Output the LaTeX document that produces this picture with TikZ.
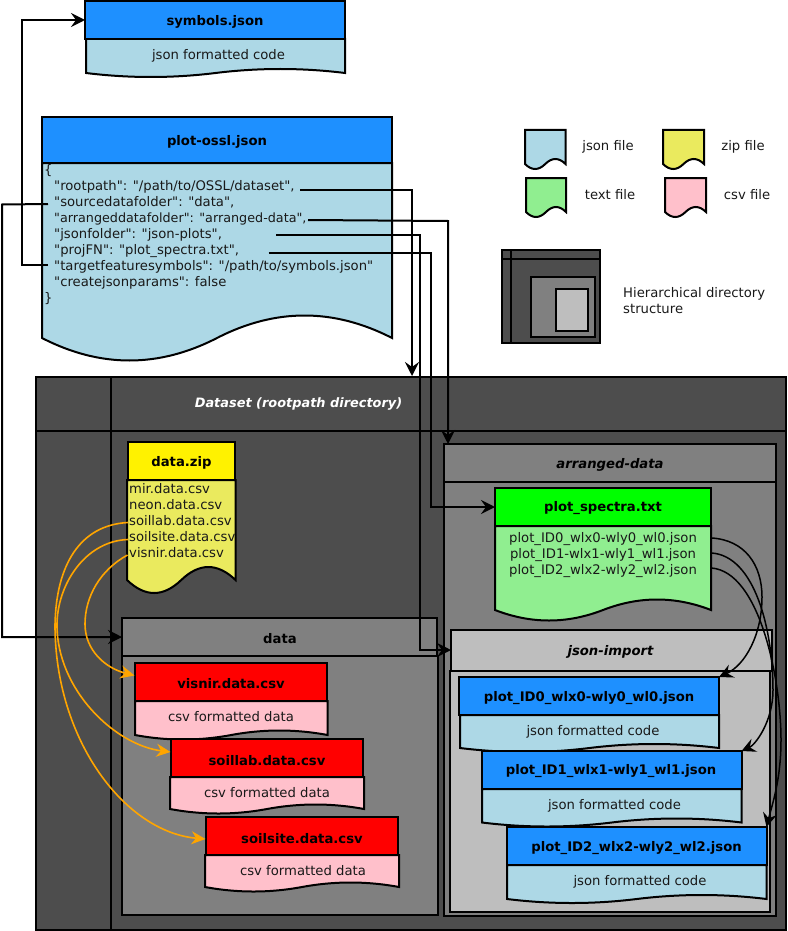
\documentclass[tikz,border=0pt]{standalone}
\usepackage{fontspec}
\newfontfamily\vera{DejaVu Sans}
\usetikzlibrary{arrows.meta}
\definecolor{hdrblue}{HTML}{1E90FF}
\definecolor{jsonbody}{HTML}{ADD8E6}
\definecolor{zipbody}{HTML}{EAEA5E}
\definecolor{txtbody}{HTML}{90EE90}
\definecolor{csvbody}{HTML}{FFC0CB}
\definecolor{dirdark}{HTML}{4D4D4D}
\definecolor{dirmid}{HTML}{808080}
\definecolor{dirlight}{HTML}{BEBEBE}
\definecolor{flow}{HTML}{FFA500}
\newcommand{\fs}{\vera\fontsize{13.2}{16}\selectfont}
\tikzset{
  ln/.style={draw=black,line width=2pt,line join=miter},
  hdr/.style={ln,inner sep=0pt,anchor=north west,font=\fs\bfseries},
  lbl/.style={inner sep=0pt,yshift=-1pt,font=\fs,text=black!90},
  ttl/.style={inner sep=0pt,yshift=-1.5pt,font=\fs\bfseries,text=black},
  dttl/.style={inner sep=0pt,yshift=-1.5pt,font=\fs\bfseries\itshape,text=black},
  lline/.style={inner sep=0pt,anchor=base west,font=\fs,text=black!90},
  conn/.style={draw=black,line width=2pt,-{Stealth[length=14pt,width=14pt,inset=5pt]}},
  ccurve/.style={draw=black,line width=1.5pt,-{Stealth[length=14pt,width=14pt,inset=5pt]}},
  ocurve/.style={draw=flow,line width=1.6pt,-{Stealth[length=14pt,width=13pt,inset=4.5pt]}},
}
% \docbody{fill}{x1}{y1}{x2}{y2 wave base}{amplitude}
\newcommand{\docbody}[6]{%
  \pgfmathsetmacro{\W}{#4-#2}%
  \pgfmathsetmacro{\cA}{#2+\W*5/6}%
  \pgfmathsetmacro{\cB}{#2+\W*4/6}%
  \pgfmathsetmacro{\cC}{#2+\W/2}%
  \pgfmathsetmacro{\cD}{#2+\W*2/6}%
  \pgfmathsetmacro{\cE}{#2+\W/6}%
  \pgfmathsetmacro{\yU}{#5-#6*4/3}%
  \pgfmathsetmacro{\yD}{#5+#6*4/3}%
  \draw[ln,fill=#1] (#2,#3) -- (#4,#3) -- (#4,#5)
    .. controls (\cA,\yU) and (\cB,\yU) .. (\cC,#5)
    .. controls (\cD,\yD) and (\cE,\yD) .. (#2,#5) -- cycle;}
% \hdrbox{name}{fill}{x1}{y1}{x2}{y2}
\newcommand{\hdrbox}[6]{%
  \pgfmathsetmacro{\bw}{#5-#3}\pgfmathsetmacro{\bh}{#6-#4}%
  \node[hdr,fill=#2,minimum width=\bw pt,minimum height=\bh pt,outer sep=0pt] (#1) at (#3,#4) {};}
\begin{document}
\begin{tikzpicture}[x=1pt,y=-1pt]
\useasboundingbox (0,0) rectangle (787,931);
% Legend
\docbody{jsonbody}{525}{130}{565.5}{164}{5}
\docbody{zipbody}{663}{130}{704}{164}{5}
\docbody{txtbody}{526}{178}{566}{212}{5}
\docbody{csvbody}{665}{178}{706}{212}{5}
\node[lbl] (lgjson) at (608,146) {json file};
\node[lbl] (lgzip) at (743,146) {zip file};
\node[lbl] (lgtext) at (610,194) {text file};
\node[lbl] (lgcsv) at (747,194) {csv file};
\draw[ln,fill=dirdark] (502,250) rectangle (599.5,343);
\draw[ln] (511,250) -- (511,343) (502,259) -- (599.5,259);
\draw[ln,fill=dirmid] (531,277) rectangle (594.5,337);
\draw[ln,fill=dirlight] (556,289) rectangle (588,331);
\node[lline] (lghier1) at (623,297) {Hierarchical directory};
\node[lline] (lghier2) at (623,313) {structure};
% symbols.json
\docbody{jsonbody}{86}{39}{345}{73}{4}
\hdrbox{symbols}{hdrblue}{85}{1}{345}{39}
\node[ttl] (symbolsname) at (215,20) {symbols.json};
\node[lbl] (symbolstxt) at (218.5,55) {json formatted code};
% plot-ossl.json
\docbody{jsonbody}{42}{163}{392}{338}{22.5}
\hdrbox{ossl}{hdrblue}{42}{117}{392}{163}
\node[ttl] (osslname) at (217,140.5) {plot-ossl.json};
\node[lline] (l0) at (44,174) {\{};
\node[lline] (l1) at (54,190) {"rootpath": "/path/to/OSSL/dataset",};
\node[lline] (l2) at (54,206) {"sourcedatafolder": "data",};
\node[lline,font=\vera\fontsize{12.75}{16}\selectfont] (l3) at (54,222) {"arrangeddatafolder": "arranged-data",};
\node[lline] (l4) at (54,238) {"jsonfolder": "json-plots",};
\node[lline] (l5) at (54,254) {"projFN": "plot\_spectra.txt",};
\node[lline] (l6) at (54,270) {"targetfeaturesymbols": "/path/to/symbols.json"};
\node[lline] (l7) at (54,286) {"createjsonparams": false};
\node[lline] (l8) at (44,302) {\}};
% Dataset
\draw[ln,fill=dirdark] (36,376.5) rectangle (786,930);
\draw[ln] (111,376.5) -- (111,930) (36,431) -- (786,431);
\node[inner sep=0pt,yshift=-1.5pt,font=\vera\fontsize{12.9}{16}\selectfont\bfseries\itshape,text=white] (datasetname) at (298.5,402) {Dataset (rootpath directory)};
% data.zip
\docbody{zipbody}{127}{480}{235.5}{580}{13}
\hdrbox{zip}{yellow}{128}{442}{235}{480}
\node[ttl] (zipname) at (181.5,461) {data.zip};
\node[lline] (z1) at (129,493) {mir.data.csv};
\node[lline] (z2) at (129,509) {neon.data.csv};
\node[lline] (z3) at (129,525) {soillab.data.csv};
\node[lline] (z4) at (129,541) {soilsite.data.csv};
\node[lline] (z5) at (129,557) {visnir.data.csv};
% data directory
\draw[ln,fill=dirmid] (121.5,656) rectangle (438,915);
\hdrbox{datadir}{dirmid}{122}{618}{437}{656}
\node[ttl] (dataname) at (280,637.5) {data};
% csv files
\docbody{csvbody}{135}{701}{327.5}{735}{4.5}
\hdrbox{visnir}{red}{135}{663}{327}{701}
\node[ttl] (visnirname) at (231,682.5) {visnir.data.csv};
\node[lbl] (visnirtxt) at (231,716) {csv formatted data};
\docbody{csvbody}{170}{777}{364}{809}{4.5}
\hdrbox{soillab}{red}{171}{739}{363}{777}
\node[ttl] (soillabname) at (267,759) {soillab.data.csv};
\node[lbl] (soillabtxt) at (267,791.5) {csv formatted data};
\docbody{csvbody}{205}{855}{399}{887}{4.5}
\hdrbox{soilsite}{red}{206}{817}{398}{855}
\node[ttl] (soilsitename) at (302,837) {soilsite.data.csv};
\node[lbl] (soilsitetxt) at (303,869.5) {csv formatted data};
% arranged-data directory
\draw[ln,fill=dirmid] (444,482) rectangle (776,916);
\hdrbox{arranged}{dirmid}{444}{444}{776}{482}
\node[dttl] (arrangedname) at (610,463) {arranged-data};
% plot_spectra
\docbody{txtbody}{495}{526}{711}{610}{10.5}
\hdrbox{spectra}{green}{495}{488}{711}{526}
\node[ttl] (spectraname) at (603,507) {plot\_spectra.txt};
\node[lbl] (s1) at (603,538) {plot\_ID0\_wlx0-wly0\_wl0.json};
\node[lbl] (s2) at (603,554) {plot\_ID1-wlx1-wly1\_wl1.json};
\node[lbl] (s3) at (603,570) {plot\_ID2\_wlx2-wly2\_wl2.json};
% json-import
\draw[ln,fill=dirlight] (450,671) rectangle (770,912);
\hdrbox{jsonimport}{dirlight}{451}{630}{772}{671}
\node[dttl] (jsonimportname) at (610.5,650) {json-import};
% plot json files
\docbody{jsonbody}{460}{715}{719}{748}{4}
\hdrbox{pa}{hdrblue}{459}{677}{719}{715}
\node[ttl] (paname) at (589,696.5) {plot\_ID0\_wlx0-wly0\_wl0.json};
\node[lbl] (patxt) at (593,731) {json formatted code};
\docbody{jsonbody}{482}{789}{741.5}{822.5}{4}
\hdrbox{pb}{hdrblue}{481.5}{751}{741.5}{789}
\node[ttl] (pbname) at (611,770) {plot\_ID1\_wlx1-wly1\_wl1.json};
\node[lbl] (pbtxt) at (614.5,804.5) {json formatted code};
\docbody{jsonbody}{507}{865}{766.5}{899}{4}
\hdrbox{pc}{hdrblue}{506.5}{827}{766.5}{865}
\node[ttl] (pcname) at (636.5,846.5) {plot\_ID2\_wlx2-wly2\_wl2.json};
\node[lbl] (pctxt) at (640,880.5) {json formatted code};
% connectors: anchors
\coordinate (c1s) at (300,190);
\coordinate (c1c) at (412,190);
\coordinate (c1e) at (412,376);
\coordinate (c2s) at (308,220);
\coordinate (c2c) at (448,221);
\coordinate (c2e) at (448,444);
\coordinate (c3s) at (276,235);
\coordinate (c3c) at (420,235);
\coordinate (c3d) at (420,650);
\coordinate (c4s) at (268.5,253);
\coordinate (c4c) at (431,253);
\coordinate (c4d) at (431,507);
\coordinate (c5s) at (48,204);
\coordinate (c5c) at (2,204.5);
\coordinate (c5d) at (2,637);
\coordinate (c6s) at (48,265);
\coordinate (c6c) at (22,265);
\coordinate (c6d) at (22,20);
\draw[conn] (c1s) -- (c1c) -- (c1e);
\draw[conn] (c2s) -- (c2c) -- (c2e);
\draw[conn] (c3s) -- (c3c) -- (c3d) -- (451,650);
\draw[conn] (c4s) -- (c4c) -- (c4d) -- (spectra.west);
\draw[conn] (c5s) -- (c5c) -- (c5d) -- (datadir.west);
\draw[conn] (c6s) -- (c6c) -- (c6d) -- (symbols.west);
% black curves
\coordinate (b1s) at (711.5,538);
\coordinate (b2s) at (711.5,553);
\coordinate (b3s) at (711.5,568);
\draw[ccurve] (b1s) .. controls (745,540) and (762,565) .. (762,597) .. controls (762,635) and (745,665) .. (pa.north east);
\draw[ccurve] (b2s) .. controls (755,556) and (773,630) .. (773,690) .. controls (773,722) and (755,745) .. (pb.north east);
\draw[ccurve] (b3s) .. controls (760,572) and (781,680) .. (781,740) .. controls (781,780) and (772,805) .. (pc.north east);
% orange curves
\coordinate (o1s) at (127.5,555);
\coordinate (o2s) at (128,539.5);
\coordinate (o3s) at (128,522.5);
\coordinate (o1e) at (134.5,675.5);
\coordinate (o2e) at (170.5,752);
\coordinate (o3e) at (205.5,839);
\draw[ocurve] (o1s) .. controls (100,570) and (85,597) .. (85,624) .. controls (85,650) and (105,668) .. (o1e);
\draw[ocurve] (o2s) .. controls (85,541) and (57,585) .. (57,625) .. controls (57,690) and (115,745) .. (o2e);
\draw[ocurve] (o3s) .. controls (80,525) and (56,565) .. (55,625) .. controls (55,740) and (125,832) .. (o3e);
\end{tikzpicture}
\end{document}
